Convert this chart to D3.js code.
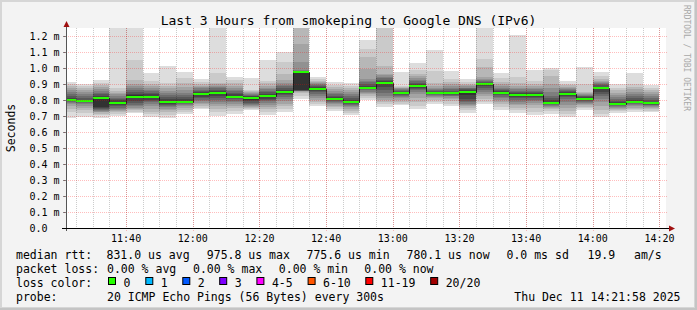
<!doctype html>
<html>
<head>
    <meta charset="utf-8">
    <title>Last 3 Hours from smokeping to Google DNS (IPv6)</title>
    <script src="https://d3js.org/d3.v7.min.js"></script>
    <style>
        body { margin: 0; background: #f3f3f3; }
        svg text { font-family: "DejaVu Sans Mono", monospace; fill: #000; white-space: pre; }
    </style>
</head>
<body>
<script>
// graph window (UTC) and the end of the first 300s round
const tStart = "2025-12-11T11:21:58Z";
const tEnd   = "2025-12-11T14:21:58Z";
const firstRound = "2025-12-11T11:25:00Z";

// median rtt per round, ms
const medians = [0.803, 0.795, 0.815, 0.783, 0.821, 0.819, 0.788, 0.788, 0.837, 0.846,
                 0.821, 0.812, 0.822, 0.852, 0.9758, 0.871, 0.808, 0.788, 0.876, 0.908,
                 0.845, 0.888, 0.844, 0.842, 0.851, 0.899, 0.845, 0.831, 0.831, 0.781,
                 0.838, 0.807, 0.872, 0.7756, 0.789, 0.7801];

// lost pings per round (out of 20)
const losses = [0,0,0,0,0,0,0,0,0,0,0,0,0,0,0,0,0,0,0,0,0,0,0,0,0,0,0,0,0,0,0,0,0,0,0,0];

// the 20 sorted pings of each round, ms (values above 1.25 are off the top)
const pings = [
  [0.690,0.728,0.745,0.760,0.772,0.781,0.788,0.794,0.798,0.801,0.805,0.812,0.822,0.835,0.848,0.860,0.872,0.885,0.900,0.910],
  [0.696,0.720,0.738,0.752,0.765,0.775,0.782,0.788,0.792,0.794,0.797,0.803,0.812,0.822,0.835,0.848,0.860,0.872,0.885,0.900],
  [0.690,0.705,0.715,0.722,0.728,0.733,0.738,0.742,0.748,0.755,0.815,0.825,0.835,0.845,0.855,0.868,0.880,0.892,0.905,0.925],
  [0.700,0.712,0.722,0.730,0.738,0.745,0.752,0.760,0.768,0.777,0.789,0.798,0.806,0.815,0.825,0.835,0.845,0.856,0.873,1.300],
  [0.717,0.728,0.737,0.745,0.752,0.760,0.770,0.782,0.795,0.812,0.830,0.840,0.850,0.860,0.872,0.885,0.902,0.925,1.050,1.300],
  [0.696,0.712,0.728,0.745,0.760,0.775,0.786,0.795,0.803,0.812,0.825,0.835,0.845,0.855,0.865,0.875,0.888,0.902,0.920,0.970],
  [0.687,0.705,0.722,0.735,0.745,0.755,0.763,0.770,0.778,0.785,0.792,0.805,0.818,0.830,0.845,0.858,0.872,0.888,0.904,1.010],
  [0.710,0.722,0.735,0.748,0.760,0.770,0.778,0.783,0.786,0.788,0.795,0.805,0.818,0.830,0.845,0.860,0.880,0.905,0.940,0.975],
  [0.742,0.752,0.762,0.772,0.782,0.792,0.800,0.810,0.820,0.830,0.842,0.850,0.858,0.865,0.872,0.880,0.890,0.902,0.915,0.931],
  [0.700,0.722,0.742,0.760,0.775,0.788,0.800,0.812,0.825,0.838,0.850,0.858,0.865,0.872,0.880,0.888,0.898,0.908,0.971,1.300],
  [0.713,0.730,0.748,0.762,0.775,0.785,0.795,0.805,0.812,0.818,0.825,0.835,0.845,0.855,0.865,0.877,0.890,0.905,0.925,0.944],
  [0.738,0.745,0.752,0.758,0.764,0.770,0.776,0.783,0.792,0.802,0.815,0.822,0.828,0.834,0.840,0.845,0.850,0.856,0.863,0.936],
  [0.707,0.725,0.742,0.757,0.770,0.782,0.792,0.800,0.808,0.816,0.828,0.838,0.848,0.858,0.868,0.878,0.890,0.905,0.920,1.050],
  [0.726,0.745,0.762,0.778,0.792,0.805,0.818,0.830,0.840,0.848,0.856,0.865,0.875,0.885,0.895,0.908,0.925,0.960,1.035,1.100],
  [0.804,0.828,0.845,0.852,0.855,0.857,0.858,0.859,0.860,0.862,0.976,0.978,0.980,0.983,0.990,1.035,1.150,1.300,1.350,1.400],
  [0.760,0.775,0.790,0.803,0.815,0.827,0.838,0.848,0.858,0.866,0.875,0.882,0.888,0.894,0.900,0.906,0.913,0.920,0.930,0.944],
  [0.730,0.742,0.755,0.765,0.775,0.783,0.790,0.796,0.801,0.806,0.811,0.818,0.826,0.835,0.845,0.855,0.866,0.880,0.895,0.915],
  [0.705,0.720,0.733,0.745,0.755,0.763,0.770,0.776,0.781,0.786,0.791,0.800,0.810,0.822,0.835,0.848,0.860,0.872,0.888,0.906],
  [0.798,0.812,0.825,0.835,0.845,0.852,0.860,0.866,0.871,0.875,0.880,0.888,0.898,0.910,0.920,0.931,0.994,1.067,1.120,1.175],
  [0.758,0.772,0.785,0.798,0.812,0.828,0.845,0.862,0.880,0.898,0.910,0.918,0.926,0.935,0.945,0.955,0.962,1.015,1.300,1.350],
  [0.766,0.778,0.790,0.800,0.810,0.818,0.826,0.833,0.839,0.843,0.847,0.852,0.857,0.862,0.867,0.872,0.877,0.883,0.890,0.974],
  [0.745,0.762,0.790,0.815,0.835,0.850,0.860,0.868,0.875,0.882,0.892,0.900,0.908,0.916,0.925,0.935,0.947,0.962,0.985,1.032],
  [0.775,0.790,0.802,0.812,0.820,0.826,0.832,0.836,0.840,0.843,0.846,0.852,0.858,0.864,0.870,0.878,0.890,0.905,0.980,1.110],
  [0.760,0.778,0.792,0.804,0.814,0.822,0.828,0.833,0.837,0.840,0.844,0.850,0.858,0.866,0.875,0.885,0.897,0.912,0.930,0.983],
  [0.720,0.738,0.752,0.762,0.770,0.778,0.786,0.795,0.808,0.830,0.853,0.860,0.866,0.872,0.878,0.885,0.892,0.900,0.912,0.929],
  [0.772,0.790,0.808,0.825,0.840,0.853,0.865,0.876,0.886,0.895,0.902,0.908,0.914,0.920,0.927,0.934,0.942,1.004,1.056,1.300],
  [0.740,0.758,0.774,0.788,0.800,0.810,0.820,0.829,0.836,0.842,0.848,0.855,0.862,0.870,0.878,0.888,0.900,0.915,0.935,0.966],
  [0.717,0.735,0.752,0.766,0.778,0.790,0.800,0.810,0.818,0.826,0.835,0.842,0.850,0.858,0.866,0.875,0.887,0.905,0.942,1.207],
  [0.707,0.728,0.748,0.766,0.780,0.792,0.802,0.811,0.819,0.826,0.835,0.843,0.851,0.859,0.868,0.878,0.888,0.902,0.920,0.988],
  [0.715,0.730,0.742,0.752,0.758,0.764,0.770,0.775,0.779,0.783,0.790,0.800,0.812,0.827,0.850,0.875,0.900,0.952,0.985,0.998],
  [0.696,0.712,0.730,0.750,0.770,0.790,0.805,0.817,0.826,0.834,0.841,0.848,0.855,0.862,0.869,0.876,0.883,0.892,0.903,0.917],
  [0.737,0.748,0.758,0.767,0.775,0.782,0.789,0.795,0.800,0.805,0.810,0.816,0.822,0.828,0.834,0.840,0.845,0.850,0.900,1.006],
  [0.696,0.715,0.738,0.762,0.785,0.805,0.822,0.838,0.852,0.866,0.876,0.884,0.891,0.898,0.905,0.912,0.920,0.932,0.950,0.976],
  [0.720,0.730,0.738,0.745,0.751,0.757,0.762,0.767,0.771,0.774,0.778,0.785,0.795,0.806,0.818,0.830,0.845,0.860,0.878,0.897],
  [0.728,0.737,0.745,0.752,0.760,0.767,0.774,0.780,0.785,0.788,0.792,0.800,0.812,0.825,0.838,0.852,0.866,0.880,0.900,0.967],
  [0.725,0.734,0.742,0.749,0.755,0.761,0.766,0.771,0.775,0.778,0.782,0.790,0.800,0.812,0.825,0.838,0.850,0.862,0.877,0.894]
];

// y axis ticks (ms) and their labels
const yTicks = [0, 0.1, 0.2, 0.3, 0.4, 0.5, 0.6, 0.7, 0.8, 0.9, 1.0, 1.1, 1.2];
const yTickLabels = ["0.0", "0.1 m", "0.2 m", "0.3 m", "0.4 m", "0.5 m", "0.6 m",
                     "0.7 m", "0.8 m", "0.9 m", "1.0 m", "1.1 m", "1.2 m"];

// legend texts
const titleText = "Last 3 Hours from smokeping to Google DNS (IPv6)";
const rttStats  = ["831.0 us avg", "975.8 us max", "775.6 us min", "780.1 us now", "0.0 ms sd", "19.9", "am/s"];
const lossStats = ["0.00 % avg", "0.00 % max", "0.00 % min", "0.00 % now"];
const lossLabels = ["0", "1", "2", "3", "4-5", "6-10", "11-19", "20/20"];
const lossLimits = [0, 1, 2, 3, 5, 10, 19, 20];
const lossColors = ["#26ff00", "#00b8ff", "#0059ff", "#7e00ff", "#ff00ff", "#ff5500", "#ff0000", "#a10000"];
const probeText = "20 ICMP Echo Pings (56 Bytes) every 300s";
const stampText = "Thu Dec 11 14:21:58 2025";

const w = 697, h = 310;
const plotLeft = 66, plotTop = 28, pw = 600, ph = 200;
const step = 5; // minutes

const svg = d3.select("body").append("svg")
    .attr("width", w).attr("height", h);

// frame
svg.append("rect").attr("width", w).attr("height", h).attr("fill", "#c4c4c4");
svg.append("rect").attr("width", w - 2).attr("height", h - 2).attr("fill", "#d6d6d6");
svg.append("rect").attr("x", 2).attr("y", 2).attr("width", w - 5).attr("height", h - 5).attr("fill", "#f3f3f3");

const x = d3.scaleUtc()
    .domain([new Date(tStart), new Date(tEnd)])
    .range([plotLeft, plotLeft + pw]);
const y = d3.scaleLinear()
    .domain([0, 1.25])
    .range([plotTop + ph, plotTop]);

svg.append("rect").attr("x", plotLeft).attr("y", plotTop).attr("width", pw).attr("height", ph).attr("fill", "#fff");

svg.append("clipPath").attr("id", "plot")
  .append("rect").attr("x", plotLeft).attr("y", plotTop).attr("width", pw).attr("height", ph);

const rounds = medians.map((m, i) => {
    const end = d3.utcMinute.offset(new Date(firstRound), i * step);
    return { start: d3.utcMinute.offset(end, -step), end: end, median: m, loss: losses[i], pings: pings[i] };
});

// smoke: band k runs from ping k to ping 21-k, darker toward the middle
const half = 10;
const shade = k => { const c = Math.floor(190 / half * (half - k)) + 50; return d3.rgb(c, c, c).formatHex(); };

const g = svg.append("g").attr("clip-path", "url(#plot)");
rounds.forEach(r => {
    for (let k = 1; k <= half; k++) {
        const hi = r.pings[20 - k], lo = r.pings[k - 1];
        g.append("rect")
            .attr("x", x(r.start))
            .attr("width", x(r.end) - x(r.start))
            .attr("y", y(hi))
            .attr("height", y(lo) - y(hi))
            .attr("fill", shade(k))
            .attr("shape-rendering", "crispEdges");
    }
});

// median: thin dark step line, then loss-coloured band
const pts = rounds.map(r => [x(r.start), y(r.median)]);
pts.push([x(rounds[rounds.length - 1].end), y(rounds[rounds.length - 1].median)]);
g.append("path")
    .attr("d", d3.line().curve(d3.curveStepAfter)(pts.map(p => [Math.round(p[0]) + 0.5, Math.round(p[1]) + 0.5])))
    .attr("fill", "none")
    .attr("stroke", "#202020")
    .attr("stroke-width", 1);

const lossColor = l => lossColors[lossLimits.findIndex(v => l <= v)];
g.selectAll(".med")
    .data(rounds)
    .enter()
    .append("rect")
    .attr("x", d => x(d.start))
    .attr("width", d => x(d.end) - x(d.start))
    .attr("y", d => Math.round(y(d.median)) - 1)
    .attr("height", 2)
    .attr("fill", d => lossColor(d.loss))
    .attr("shape-rendering", "crispEdges");

// grid on top of the graph
const minor = d3.utcMinute.every(5).range(x.domain()[0], x.domain()[1]);
const major = d3.utcMinute.every(20).range(x.domain()[0], x.domain()[1]);
const redGrid = "rgba(255,0,0,0.26)";
svg.append("g").selectAll("line")
    .data(minor)
    .enter()
    .append("line")
    .attr("x1", d => Math.round(x(d)) + 0.5).attr("x2", d => Math.round(x(d)) + 0.5)
    .attr("y1", plotTop).attr("y2", plotTop + ph + 2)
    .attr("stroke", "rgba(0,0,0,0.2)")
    .attr("stroke-dasharray", "1,1");
svg.append("g").selectAll("line")
    .data(major)
    .enter()
    .append("line")
    .attr("x1", d => Math.round(x(d)) + 0.5).attr("x2", d => Math.round(x(d)) + 0.5)
    .attr("y1", plotTop).attr("y2", plotTop + ph + 4)
    .attr("stroke", redGrid)
    .attr("stroke-dasharray", "1,1");
svg.append("g").selectAll("line")
    .data(yTicks.slice(1))
    .enter()
    .append("line")
    .attr("x1", plotLeft - 2).attr("x2", plotLeft + pw + 2)
    .attr("y1", d => Math.round(y(d)) + 0.5).attr("y2", d => Math.round(y(d)) + 0.5)
    .attr("stroke", redGrid)
    .attr("stroke-dasharray", "1,1");
svg.append("g").selectAll("line")
    .data(yTicks.slice(1))
    .enter()
    .append("line")
    .attr("x1", plotLeft - 3).attr("x2", plotLeft)
    .attr("y1", d => Math.round(y(d)) + 0.5).attr("y2", d => Math.round(y(d)) + 0.5)
    .attr("stroke", "rgba(0,0,0,0.45)");

// axes and arrows
svg.append("line")
    .attr("x1", plotLeft + 0.5).attr("x2", plotLeft + 0.5)
    .attr("y1", plotTop + ph + 3).attr("y2", plotTop - 3)
    .attr("stroke", "#555");
svg.append("line")
    .attr("x1", plotLeft - 4).attr("x2", plotLeft + pw + 4)
    .attr("y1", plotTop + ph + 0.5).attr("y2", plotTop + ph + 0.5)
    .attr("stroke", "#000");
svg.append("path")
    .attr("d", `M${plotLeft + 0.5},${plotTop - 7} L${plotLeft + 3.5},${plotTop - 1} L${plotLeft - 2.5},${plotTop - 1} Z`)
    .attr("fill", "#a01010");
svg.append("path")
    .attr("d", `M${plotLeft + pw + 9},${plotTop + ph + 0.5} L${plotLeft + pw + 3},${plotTop + ph - 2.5} L${plotLeft + pw + 3},${plotTop + ph + 3.5} Z`)
    .attr("fill", "#a01010");

// tick labels
svg.append("g").selectAll("text")
    .data(yTicks)
    .enter()
    .append("text")
    .attr("x", 29.5)
    .attr("y", d => y(d) + 3.7)
    .style("font-size", "10px")
    .text((d, i) => yTickLabels[i]);
svg.append("g").selectAll("text")
    .data(major)
    .enter()
    .append("text")
    .attr("x", d => x(d))
    .attr("y", 241.5)
    .attr("text-anchor", "middle")
    .style("font-size", "10px")
    .text(d3.utcFormat("%H:%M"));

// title, unit, watermark
svg.append("text")
    .attr("x", w / 2).attr("y", 24.5)
    .attr("text-anchor", "middle")
    .style("font-size", "13px")
    .text(titleText);
svg.append("text")
    .attr("transform", `translate(15,${plotTop + ph / 2}) rotate(-90)`)
    .attr("text-anchor", "middle")
    .style("font-size", "11.5px")
    .text("Seconds");
svg.append("text")
    .attr("transform", "translate(684,5) rotate(90)")
    .style("font-size", "8px")
    .style("fill", "#a8a8a8")
    .text("RRDTOOL / TOBI OETIKER");

// legend
const lg = svg.append("g").style("font-size", "11.5px");
const put = (tx, ty, s) => lg.append("text").attr("x", tx).attr("y", ty).text(s);

put(16, 258.5, "median rtt:");
[106.5, 206.8, 306.5, 406.5, 506.5, 587.5, 634].forEach((px, i) => put(px, 258.5, rttStats[i]));

put(16, 272.5, "packet loss:");
[107, 193, 278.8, 364.3].forEach((px, i) => put(px, 272.5, lossStats[i]));

put(16, 286.5, "loss color:");
[108, 145.3, 182.3, 219.2, 256.4, 307.6, 365.3, 430.2].forEach((px, i) => {
    lg.append("rect")
        .attr("x", px + 0.5).attr("y", 277.5)
        .attr("width", 7).attr("height", 7)
        .attr("fill", lossColors[i])
        .attr("stroke", "#000");
    put(px + 15.5, 286.5, lossLabels[i]);
});

put(16, 300.5, "probe:");
put(107, 300.5, probeText);
lg.append("text").attr("x", 680.5).attr("y", 300.5).attr("text-anchor", "end").text(stampText);
</script>
</body>
</html>
